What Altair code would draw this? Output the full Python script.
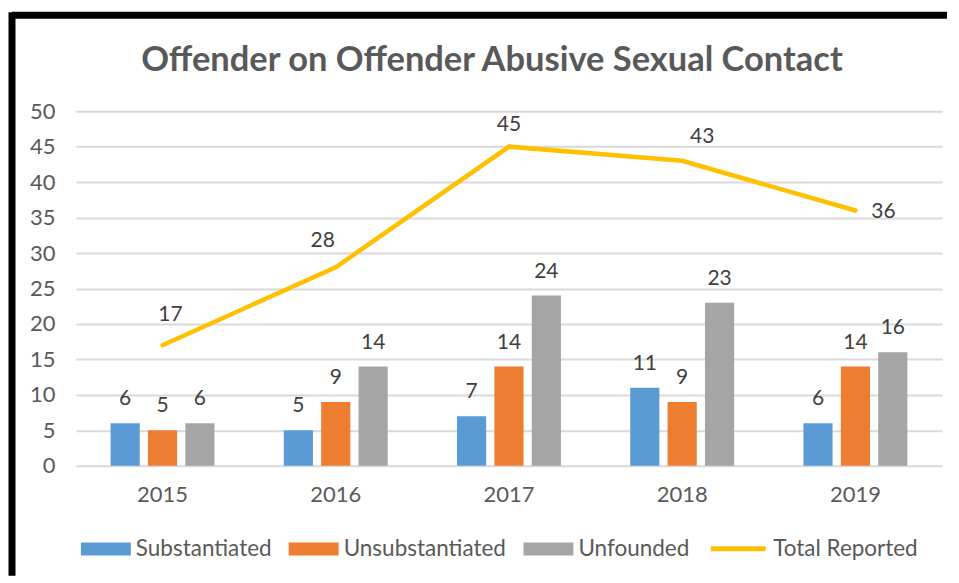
import altair as alt
import pandas as pd

years = ["2015", "2016", "2017", "2018", "2019"]
substantiated = [6, 5, 7, 11, 6]
unsubstantiated = [5, 9, 14, 9, 14]
unfounded = [6, 14, 24, 23, 16]
total_reported = [17, 28, 45, 43, 36]
series_names = ["Substantiated", "Unsubstantiated", "Unfounded"]
series_colors = ["#5B9BD5", "#ED7D31", "#A5A5A5"]
total_name = "Total Reported"
total_color = "#FFC000"
y_ticks = list(range(0, 55, 5))
title_text = "Offender on Offender Abusive Sexual Contact"

rows = []
for i, yr in enumerate(years):
    for name, vals in zip(series_names, [substantiated, unsubstantiated, unfounded]):
        rows.append({"year": yr, "series": name, "value": vals[i]})
bars_df = pd.DataFrame(rows)
line_df = pd.DataFrame({"year": years, "series": [total_name] * len(years), "value": total_reported})
frame_df = pd.DataFrame({"k": [0]})

FONT = "Lato"
GRAY = "#595959"
DARK = "#404040"

x_scale = alt.Scale(domain=years, paddingInner=0.4, paddingOuter=0.2)
y_scale = alt.Scale(domain=[0, 50])

x_enc = alt.X("year:N", scale=x_scale, sort=years,
              axis=alt.Axis(title=None, labelAngle=0, ticks=False, tickSize=0, domain=False,
                            grid=False, labelPadding=19, labelFontSize=22, labelFont=FONT,
                            labelColor=GRAY))
y_enc = alt.Y("value:Q", scale=y_scale,
              axis=alt.Axis(title=None, values=y_ticks, ticks=False, tickSize=0, domain=False,
                            grid=True, gridColor="#D9D9D9", gridWidth=2, labelPadding=21,
                            labelFontSize=22, labelFont=FONT, labelColor=GRAY))
x_off = alt.XOffset("series:N", sort=series_names,
                    scale=alt.Scale(domain=series_names, paddingInner=0.22, paddingOuter=0))

bars = alt.Chart(bars_df).mark_bar().encode(
    x=x_enc, y=y_enc, xOffset=x_off,
    color=alt.Color("series:N", sort=series_names,
                    scale=alt.Scale(domain=series_names, range=series_colors),
                    legend=alt.Legend(title=None, orient="none", legendX=5, legendY=413,
                                      direction="horizontal",
                                      symbolType="M-1,-0.26L1,-0.26L1,0.26L-1,0.26Z",
                                      symbolSize=2500, symbolStrokeWidth=0,
                                      labelFontSize=22.5, labelFont=FONT, labelColor=GRAY,
                                      labelOffset=5, columnPadding=17, labelLimit=400)),
)

bar_labels = alt.Chart(bars_df).mark_text(
    baseline="bottom", dy=-14, fontSize=21, font=FONT, color=DARK
).encode(x=x_enc, y=y_enc, xOffset=x_off, text="value:Q")

line = alt.Chart(line_df).mark_line(strokeWidth=4.5, strokeCap="round").encode(
    x=x_enc, y=y_enc,
    stroke=alt.Stroke("series:N",
                      scale=alt.Scale(domain=[total_name], range=[total_color]),
                      legend=alt.Legend(title=None, orient="none", legendX=633, legendY=408,
                                        symbolType="stroke", symbolSize=3025,
                                        symbolStrokeWidth=5, labelFontSize=22.5,
                                        labelFont=FONT, labelColor=GRAY, labelOffset=5,
                                        labelLimit=400)),
)

# label placement offsets (style only), one per year
label_dx = [8, -13, 0, 20, 28]
label_dy = [-30, -26, -22, -24, 2]
line_label_layers = []
for i, yr in enumerate(years):
    line_label_layers.append(
        alt.Chart(line_df[line_df["year"] == yr]).mark_text(
            baseline="middle", align="center", dx=label_dx[i], dy=label_dy[i],
            fontSize=21, font=FONT, color=DARK
        ).encode(x=x_enc, y=y_enc, text="value:Q")
    )

border_top = alt.Chart(frame_df).mark_rule(color="black", strokeWidth=7).encode(
    x=alt.value(-64), x2=alt.value(872), y=alt.value(-96))
border_left = alt.Chart(frame_df).mark_rule(color="black", strokeWidth=7).encode(
    x=alt.value(-64), y=alt.value(-99), y2=alt.value(465))

chart = alt.layer(
    bars, bar_labels, line, *line_label_layers, border_top, border_left
).resolve_scale(color="independent").properties(
    width=867, height=355,
    padding={"left": 0, "top": 0, "right": 0, "bottom": 0},
    title=alt.Title(title_text, fontSize=34.5, font=FONT, fontWeight="bold", color=GRAY,
                    anchor="middle", dx=-17, dy=74),
).configure_view(stroke=None)

chart.save("out.html", embed_options={"renderer": "svg", "actions": False})
